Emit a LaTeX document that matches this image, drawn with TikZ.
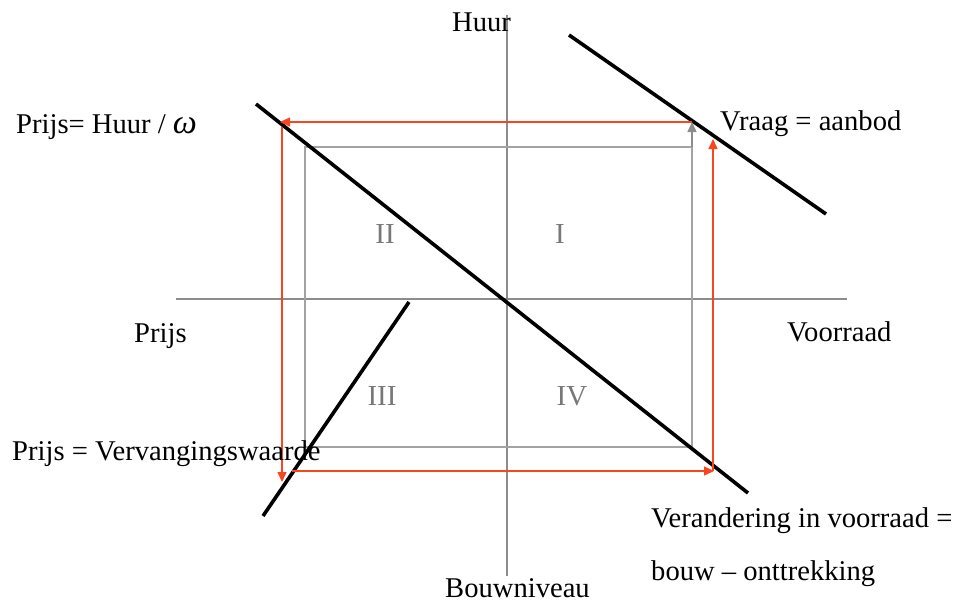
\documentclass[tikz,border=0pt]{standalone}
\usepackage{fontspec}
\setmainfont{Liberation Serif}
\usetikzlibrary{arrows.meta}
\definecolor{redarr}{RGB}{250,70,30}
\definecolor{axgray}{RGB}{140,140,140}
\definecolor{numgray}{RGB}{120,120,120}
\begin{document}
\begin{tikzpicture}[x=1pt,y=-1pt,
  lbl/.style={inner sep=0pt,anchor=base west,font=\fontsize{28.6}{34}\selectfont},
  num/.style={inner sep=0pt,anchor=base,font=\fontsize{29}{34}\selectfont,text=numgray},
  axis/.style={draw=axgray,line width=1.2pt},
  curve/.style={draw=black,line width=3.6pt},
  box/.style={draw=axgray!80,line width=1.5pt},
  redar/.style={draw=redarr,line width=1.4pt,-{Triangle[length=10pt,width=9pt]}},
  grayar/.style={draw=axgray,line width=1.4pt,-{Triangle[length=10pt,width=9pt]}}]
\useasboundingbox (0,0) rectangle (955,605);
% axes
\coordinate (ht) at (507,15); \coordinate (hb) at (507,576);
\coordinate (hl) at (176,299); \coordinate (hr) at (847,299);
\draw[axis] (ht) -- (hb);
\draw[axis] (hl) -- (hr);
% gray box
\coordinate (b1) at (305,147); \coordinate (b2) at (692,447);
\draw[box] (b1) rectangle (b2);
% black lines
\coordinate (l1a) at (256,104); \coordinate (l1b) at (748,493);
\coordinate (l2a) at (569,35); \coordinate (l2b) at (826,214);
\coordinate (l3a) at (409,302); \coordinate (l3b) at (263,516);
\draw[curve] (l1a) -- (l1b);
\draw[curve] (l2a) -- (l2b);
\draw[curve] (l3a) -- (l3b);
% arrows
\coordinate (g0) at (692,147); \coordinate (g1) at (692,122);
\coordinate (ra0) at (713,471); \coordinate (ra1) at (713,139);
\coordinate (rb0) at (692,122); \coordinate (rb1) at (280,122);
\coordinate (rc0) at (282,127); \coordinate (rc1) at (282,482);
\coordinate (rd0) at (292,471); \coordinate (rd1) at (714,471);
\draw[grayar] (g0) -- (g1);
\draw[redar] (ra0) -- (ra1);
\draw[redar] (rb0) -- (rb1);
\draw[redar] (rc0) -- (rc1);
\draw[redar] (rd0) -- (rd1);
% labels
\node[lbl] (huur) at (452,31) {Huur};
\node[lbl] (prijs) at (134,342) {Prijs};
\node[lbl] (voorraad) at (787,341) {Voorraad};
\node[lbl] (bouwniveau) at (445,597) {Bouwniveau};
\node[lbl] (phw) at (16,133) {Prijs= Huur / {\fontsize{34}{34}\selectfont\textit{ω}}};
\node[lbl] (vra) at (720,130) {Vraag = aanbod};
\node[lbl] (pvw) at (12,460) {Prijs = Vervangingswaarde};
\node[lbl] (ver1) at (651,527) {Verandering in voorraad =};
\node[lbl] (ver2) at (651,580) {bouw – onttrekking};
\node[num] (qII) at (385,243) {II};
\node[num] (qI) at (560,243) {I};
\node[num] (qIII) at (382,405) {III};
\node[num] (qIV) at (572,405) {IV};
\end{tikzpicture}
\end{document}
